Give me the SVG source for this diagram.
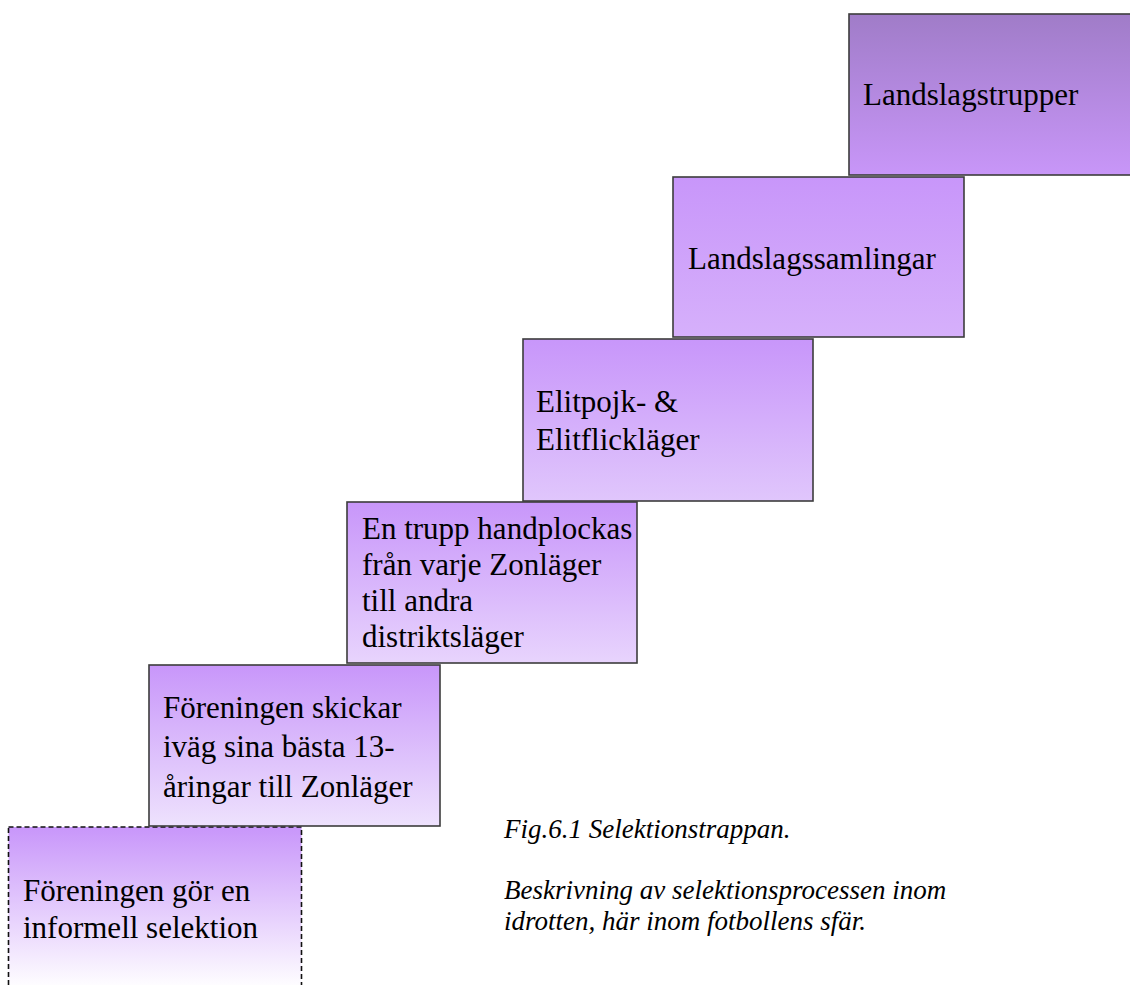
<svg xmlns="http://www.w3.org/2000/svg" width="1130" height="985" viewBox="0 0 1130 985">
<style>
.box{stroke:#3c3c3c;stroke-width:1.6}
.dash{stroke:#111;stroke-width:1.6;stroke-dasharray:5 3}
.t{font-family:"Liberation Serif","Times New Roman",serif;font-size:31px;fill:#000}
.cap{font-family:"Liberation Serif","Times New Roman",serif;font-size:27px;font-style:italic;fill:#000}
</style>
<defs>
<linearGradient id="g6" x1="0" y1="0" x2="0" y2="1"><stop offset="0" stop-color="#a07cc8"/><stop offset="1" stop-color="#c896f8"/></linearGradient>
<linearGradient id="g5" x1="0" y1="0" x2="0" y2="1"><stop offset="0" stop-color="#c896fa"/><stop offset="1" stop-color="#d6b0fb"/></linearGradient>
<linearGradient id="g4" x1="0" y1="0" x2="0" y2="1"><stop offset="0" stop-color="#c896fa"/><stop offset="1" stop-color="#e0c6fc"/></linearGradient>
<linearGradient id="g3" x1="0" y1="0" x2="0" y2="1"><stop offset="0" stop-color="#c896fa"/><stop offset="1" stop-color="#e8d4fd"/></linearGradient>
<linearGradient id="g2" x1="0" y1="0" x2="0" y2="1"><stop offset="0" stop-color="#c896fa"/><stop offset="1" stop-color="#eee2fd"/></linearGradient>
<linearGradient id="g1" x1="0" y1="0" x2="0" y2="1"><stop offset="0" stop-color="#c896fa"/><stop offset="1" stop-color="#ffffff"/></linearGradient>
</defs>
<rect width="1130" height="985" fill="#fff"/>
<g id="connectors"></g>
<g id="step1">
<rect class="dash" x="8.5" y="827" width="293" height="162" fill="url(#g1)"/>
<text class="t" x="23" y="901">Föreningen gör en</text>
<text class="t" x="23" y="938">informell selektion</text>
</g>
<g id="step2">
<rect class="box" x="149" y="665" width="291" height="161" fill="url(#g2)"/>
<text class="t" x="163" y="718">Föreningen skickar</text>
<text class="t" x="163" y="757">iväg sina bästa 13-</text>
<text class="t" x="163" y="797">åringar till Zonläger</text>
</g>
<g id="step3">
<rect class="box" x="347" y="502" width="290" height="161" fill="url(#g3)"/>
<text class="t" x="362" y="539">En trupp handplockas</text>
<text class="t" x="362" y="575">från varje Zonläger</text>
<text class="t" x="362" y="611">till andra</text>
<text class="t" x="362" y="647">distriktsläger</text>
</g>
<g id="step4">
<rect class="box" x="523" y="339" width="290" height="162" fill="url(#g4)"/>
<text class="t" x="536" y="412">Elitpojk- &amp;</text>
<text class="t" x="536" y="450">Elitflickläger</text>
</g>
<g id="step5">
<rect class="box" x="673" y="177" width="291" height="160" fill="url(#g5)"/>
<text class="t" x="688" y="269">Landslagssamlingar</text>
</g>
<g id="step6">
<rect class="box" x="849" y="14" width="292" height="161" fill="url(#g6)"/>
<text class="t" x="863" y="105">Landslagstrupper</text>
</g>
<g id="caption">
<text class="cap" x="504" y="838">Fig.6.1 Selektionstrappan.</text>
<text class="cap" x="504" y="899">Beskrivning av selektionsprocessen inom</text>
<text class="cap" x="504" y="930">idrotten, här inom fotbollens sfär.</text>
</g>
</svg>
